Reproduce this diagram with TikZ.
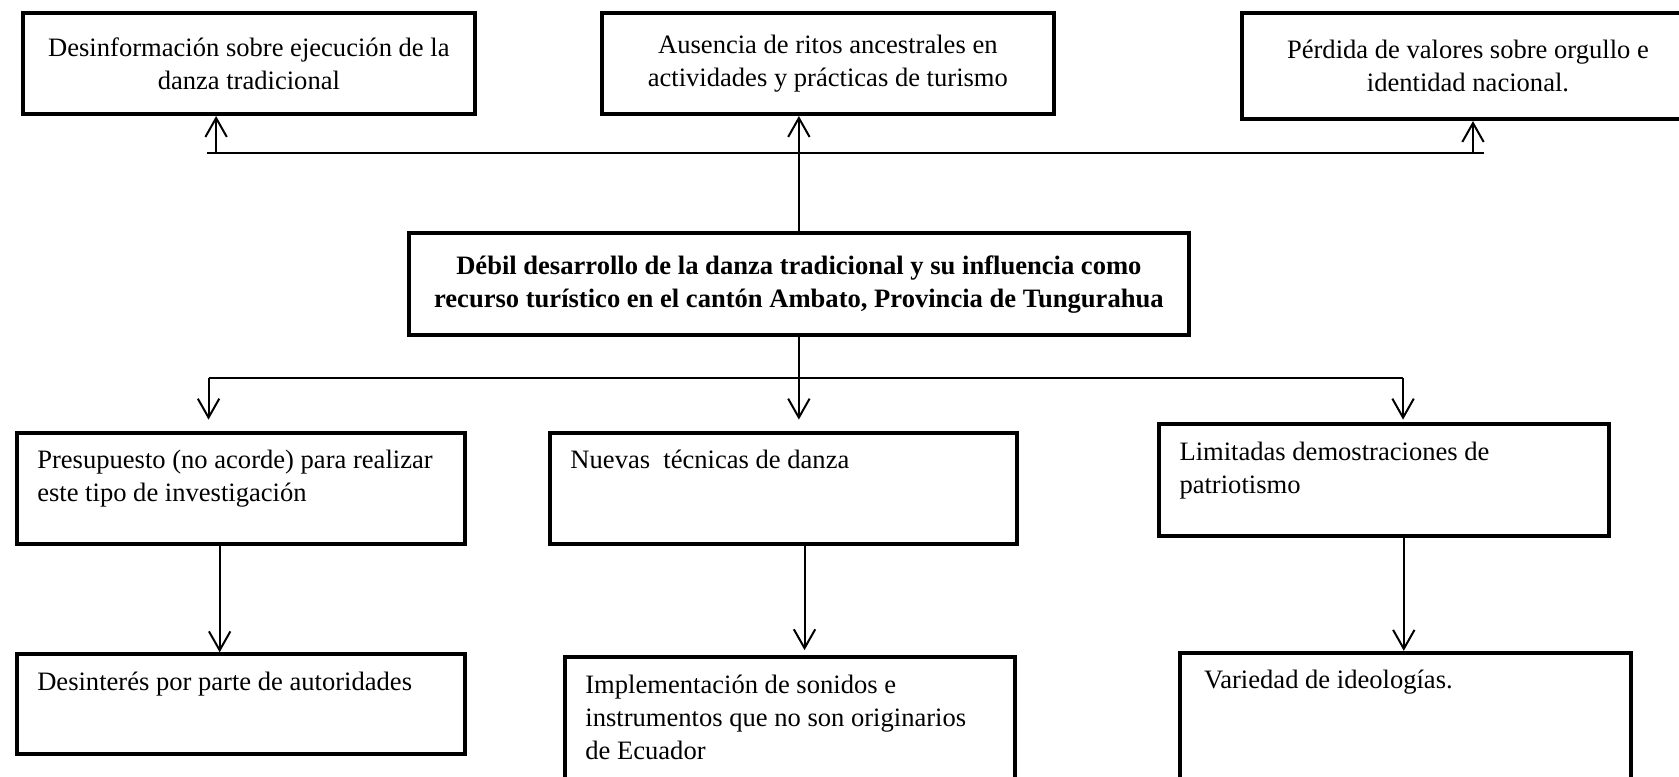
\documentclass[tikz,border=0pt]{standalone}
\usepackage{fontspec}
\setmainfont{Liberation Serif}
\usetikzlibrary{positioning, arrows.meta}

\begin{document}
\begin{tikzpicture}[
    font=\fontsize{12}{14.9}\selectfont, % Word-like 12pt serif text
    % --- STYLES ---
    effect_box/.style={draw, line width=1.8pt, align=center, inner sep=0pt,
        minimum width=7.175cm, minimum height=1.6cm},
    problem_box/.style={draw, line width=1.8pt, align=center, inner sep=0pt,
        font=\fontsize{12}{14.9}\selectfont\bfseries},
    cause_box/.style={
        draw, line width=1.8pt,
        align=flush left,    % Text starts at the left, no stretched spaces
        inner xsep=0.32cm,   % Padding left of the text
        inner ysep=0pt,
        text height=0.57cm,  % First baseline below the top edge
        anchor=north west
    },
    bar_line/.style={line width=0.8pt},
    arrow_style/.style={-{Straight Barb[length=3mm, width=3.4mm]}, line width=0.9pt} % Arrow style
]

% --- PAGE (boxes at the right and bottom run off the page) ---
\useasboundingbox (0,0) rectangle (26.65,-12.33);
\clip (0,0) rectangle (26.65,-12.33);

% --- EFFECTS (top row) ---
\node[effect_box] (desinfo) at (3.95,-1.01) {Desinformación sobre ejecución de la\\danza tradicional};
\node[effect_box] (ausencia) at (13.14,-1.01) {Ausencia de ritos ancestrales en\\actividades y prácticas de turismo};
\node[effect_box, minimum height=1.68cm] (perdida) at (23.30,-1.05) {Pérdida de valores sobre orgullo e\\identidad nacional.};

% --- CENTRAL PROBLEM ---
\node[problem_box, minimum width=12.38cm, minimum height=1.62cm] (problem) at (12.68,-4.51) {%
    Débil desarrollo de la danza tradicional y su influencia como\\
    recurso turístico en el cantón Ambato, Provincia de Tungurahua};

% --- CAUSES (middle row) ---
\node[cause_box, text width=6.47cm, text depth=1.19cm] (presupuesto) at (0.24,-6.84) {Presupuesto (no acorde) para realizar\\este tipo de investigación};
\node[cause_box, text width=6.77cm, text depth=1.19cm, right=1.29cm of presupuesto] (nuevas) {Nuevas\ \ técnicas de danza};
\node[cause_box, text width=6.50cm, text depth=1.21cm] (limitadas) at (18.37,-6.70) {Limitadas demostraciones de\\patriotismo};

% --- CAUSES (bottom row) ---
\node[cause_box, text width=6.47cm, text depth=1.02cm, below=1.69cm of presupuesto] (desinteres) {Desinterés por parte de autoridades};
\node[cause_box, text width=6.50cm, text depth=1.65cm] (implementacion) at (8.94,-10.40) {Implementación de sonidos e\\instrumentos que no son originarios\\de Ecuador};
\node[cause_box, inner xsep=0.38cm, text width=6.40cm, text depth=1.65cm] (variedad) at (18.70,-10.33) {Variedad de ideologías.};

% --- UPPER BAR AND ARROWS ---
\coordinate (top_bar_w) at (3.29,-2.43);
\coordinate (top_bar_e) at (23.56,-2.43);
\coordinate (up_desinfo) at (3.43,-2.43);
\coordinate (up_perdida) at (23.38,-2.43);
\draw[bar_line] (top_bar_w) -- (top_bar_e);
\draw[arrow_style] (up_desinfo) -- (up_desinfo |- desinfo.south);
\draw[arrow_style] (problem.north) -- (problem.north |- ausencia.south);
\draw[arrow_style] (up_perdida) -- (up_perdida |- perdida.south);

% --- LOWER BAR AND ARROWS ---
\coordinate (low_bar_w) at (3.31,-6.00);
\coordinate (low_bar_e) at (22.27,-6.00);
\coordinate (low_bar_mid) at (problem.south |- low_bar_w);
\draw[bar_line] (problem.south) -- (low_bar_mid);
\draw[bar_line] (low_bar_w) -- (low_bar_e);
\draw[arrow_style, shorten >=0.18cm] (low_bar_w) -- (low_bar_w |- presupuesto.north);
\draw[arrow_style, shorten >=0.18cm] (low_bar_mid) -- (low_bar_mid |- nuevas.north);
\draw[arrow_style, shorten >=0.04cm] (low_bar_e) -- (low_bar_e |- limitadas.north);

% --- CAUSE TO CAUSE ---
\draw[arrow_style] ([xshift=-0.34cm]presupuesto.south) -- ([xshift=-0.34cm]presupuesto.south |- desinteres.north);
\draw[arrow_style, shorten >=0.08cm] ([xshift=0.33cm]nuevas.south) -- ([xshift=0.33cm]nuevas.south |- implementacion.north);
\draw[arrow_style] ([xshift=0.31cm]limitadas.south) -- ([xshift=0.31cm]limitadas.south |- variedad.north);

\end{tikzpicture}
\end{document}
